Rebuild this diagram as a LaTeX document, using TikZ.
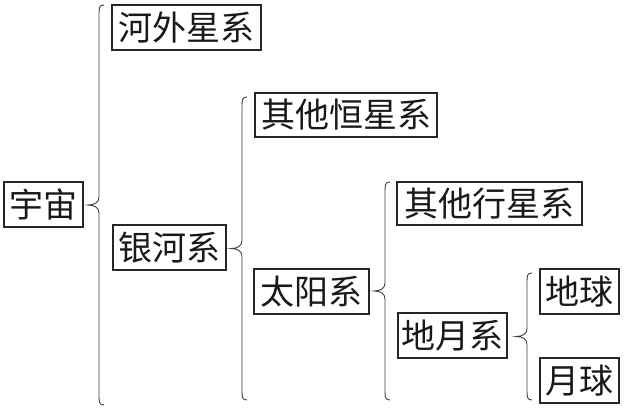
\documentclass[tikz,border=0pt]{standalone}
\usepackage{fontspec}
\newfontfamily\cjk{Noto Sans CJK SC}
\usetikzlibrary{calc}
\begin{document}
\begin{tikzpicture}[x=1pt,y=-1pt,
  box/.style={draw=black!85, line width=1.2pt, inner sep=0pt, text=black!90,
    font=\cjk\fontsize{34}{36}\selectfont, minimum height=45pt},
  bracepath/.style={draw=black!75, line width=0.9pt, to path={
    let \p1=(\tikztostart), \p2=(\tikztotarget), \n1={(\y1+\y2)/2} in
    (\x1+5pt,\y1) .. controls (\x1,\y1) and (\x1,\y1-3pt) .. (\x1,\y1-10pt)
    -- (\x1,\n1+8pt) .. controls (\x1,\n1+3pt) and (\x1-4pt,\n1) .. (\x1-11pt,\n1)
    .. controls (\x1-4pt,\n1) and (\x1,\n1-3pt) .. (\x1,\n1-8pt)
    -- (\x1,\y2+10pt) .. controls (\x1,\y2+3pt) and (\x1,\y2) .. (\x1+5pt,\y2)}}]
\useasboundingbox (0,0) rectangle (624,409);
\fill[white] (0,0) rectangle (624,409);
% nodes
\node[box, minimum width=79pt]  (yz)  at (43.5,204.5) {宇宙};
\node[box, minimum width=149pt] (hw)  at (186.5,27.5) {河外星系};
\node[box, minimum width=113pt] (yh)  at (169.5,247.5) {银河系};
\node[box, minimum width=182pt, minimum height=44pt] (qh) at (346,115) {其他恒星系};
\node[box, minimum width=115pt] (ty)  at (311.5,291.5) {太阳系};
\node[box, minimum width=185pt, minimum height=43pt] (qx) at (489.5,203.5) {其他行星系};
\node[box, minimum width=109pt] (dy)  at (452.5,335.5) {地月系};
\node[box, minimum width=79pt]  (dq)  at (579.5,291.5) {地球};
\node[box, minimum width=79pt]  (yq)  at (579.5,380.5) {月球};
% brace ends
\coordinate (b1t) at (99,5);   \coordinate (b1b) at (99,405);
\coordinate (b2t) at (242,97); \coordinate (b2b) at (242,400);
\coordinate (b3t) at (385,182);\coordinate (b3b) at (385,400);
\coordinate (b4t) at (527,273);\coordinate (b4b) at (527,400);
\path[bracepath] (b1t) to (b1b);
\path[bracepath] (b2t) to (b2b);
\path[bracepath] (b3t) to (b3b);
\path[bracepath] (b4t) to (b4b);
\end{tikzpicture}
\end{document}
